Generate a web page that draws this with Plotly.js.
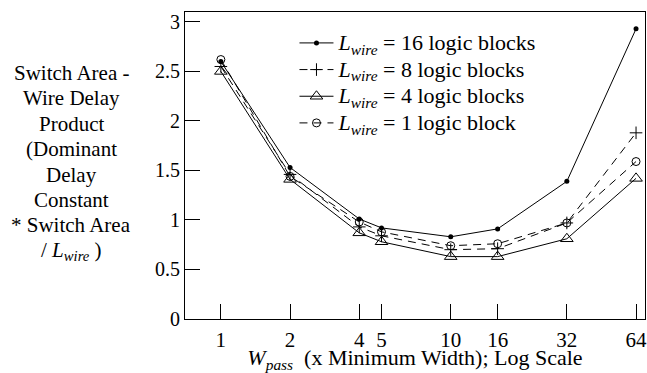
<!DOCTYPE html>
<html>
<head>
<meta charset="utf-8">
<script src="https://cdn.plot.ly/plotly-3.0.1.min.js"></script>
<style>html,body{margin:0;padding:0;background:#fff;}#chart{width:647px;height:373px;}</style>
</head>
<body>
<div id="chart"></div>
<script>
const wpass = [1, 2, 4, 5, 10, 16, 32, 64];
const lwire16 = [2.60, 1.53, 1.01, 0.92, 0.83, 0.91, 1.39, 2.93];
const lwire8  = [2.55, 1.46, 0.93, 0.84, 0.70, 0.71, 0.97, 1.88];
const lwire4  = [2.50, 1.41, 0.87, 0.78, 0.63, 0.63, 0.81, 1.42];
const lwire1  = [2.62, 1.44, 0.98, 0.88, 0.74, 0.76, 0.97, 1.59];
const seriesNames = [
  '<i>L<sub>wire</sub></i> = 16 logic blocks',
  '<i>L<sub>wire</sub></i> = 8 logic blocks',
  '<i>L<sub>wire</sub></i> = 4 logic blocks',
  '<i>L<sub>wire</sub></i> = 1 logic block'
];
const xTicks = [1, 2, 4, 5, 10, 16, 32, 64];
const yTicks = [0, 0.5, 1, 1.5, 2, 2.5, 3];
const yTitleLines = ['Switch Area -', 'Wire Delay', 'Product', '(Dominant', 'Delay', 'Constant', '* Switch Area', '/ <i>L<sub>wire</sub></i> )'];

const FONT = 'Liberation Serif';
const W = 647, H = 373;
const M = {l: 185, r: 2, t: 12, b: 54};
const plotH = H - M.t - M.b;
const plotW = W - M.l - M.r;

const big = s => '<span style="font-size:22px">' + s + '</span>';

const traces = [
  {x: wpass, y: lwire16, name: big(seriesNames[0]), mode: 'lines+markers',
   line: {color: '#000', width: 1, dash: 'solid'},
   marker: {symbol: 'circle', size: 5, color: '#000'}},
  {x: wpass, y: lwire8, name: big(seriesNames[1]), mode: 'lines+markers',
   line: {color: '#000', width: 1, dash: '8px,6px'},
   marker: {symbol: 'cross-thin-open', size: 9, color: '#000', line: {width: 1, color: '#000'}}},
  {x: wpass, y: lwire4, name: big(seriesNames[2]), mode: 'lines+markers',
   line: {color: '#000', width: 1, dash: 'solid'},
   marker: {symbol: 'triangle-up-open', size: 11, color: '#000', line: {width: 1, color: '#000'}}},
  {x: wpass, y: lwire1, name: big(seriesNames[3]), mode: 'lines+markers',
   line: {color: '#000', width: 1, dash: '8px,6px'},
   marker: {symbol: 'circle-open', size: 8, color: '#000', line: {width: 1, color: '#000'}}}
];

// y-axis title as stacked centered lines
const titleX = (71 - M.l) / plotW;
const annotations = yTitleLines.map((t, i) => ({
  xref: 'paper', yref: 'paper', x: titleX, y: (M.t + plotH - (73 + 25.4 * i)) / plotH,
  xanchor: 'center', yanchor: 'middle', text: t, showarrow: false,
  font: {family: FONT, size: 21, color: '#000'}
}));

const layout = {
  width: W, height: H,
  margin: M,
  paper_bgcolor: '#fff', plot_bgcolor: '#fff',
  font: {family: FONT, size: 20, color: '#000'},
  showlegend: true,
  legend: {x: 0.238, y: 0.959, xanchor: 'left', yanchor: 'top', bgcolor: 'rgba(0,0,0,0)',
           itemwidth: 34,
           font: {family: FONT, size: 18.2, color: '#000'}, tracegroupgap: 0},
  xaxis: {type: 'log', range: [Math.log10(1) - 0.156, Math.log10(64) + 0.039],
          tickvals: xTicks, ticktext: xTicks.map(String),
          ticks: 'inside', ticklen: 15, tickcolor: '#000', tickwidth: 1,
          showline: true, linecolor: '#000', linewidth: 1, mirror: true,
          showgrid: false, zeroline: false, ticklabelstandoff: 2,
          ticklabeloverflow: 'allow',
          tickfont: {family: FONT, size: 21},
          title: {text: '<i>W<sub>pass</sub></i>  (x Minimum Width); Log Scale', font: {family: FONT, size: 22}, standoff: 3}},
  yaxis: {range: [0, 3.1], tickvals: yTicks, ticktext: yTicks.map(String),
          ticks: 'inside', ticklen: 15, tickcolor: '#000', tickwidth: 1,
          showline: true, linecolor: '#000', linewidth: 1, mirror: true,
          showgrid: false, zeroline: false,
          tickfont: {family: FONT, size: 20}},
  annotations: annotations
};

Plotly.newPlot('chart', traces, layout, {displayModeBar: false, staticPlot: true});
</script>
</body>
</html>
